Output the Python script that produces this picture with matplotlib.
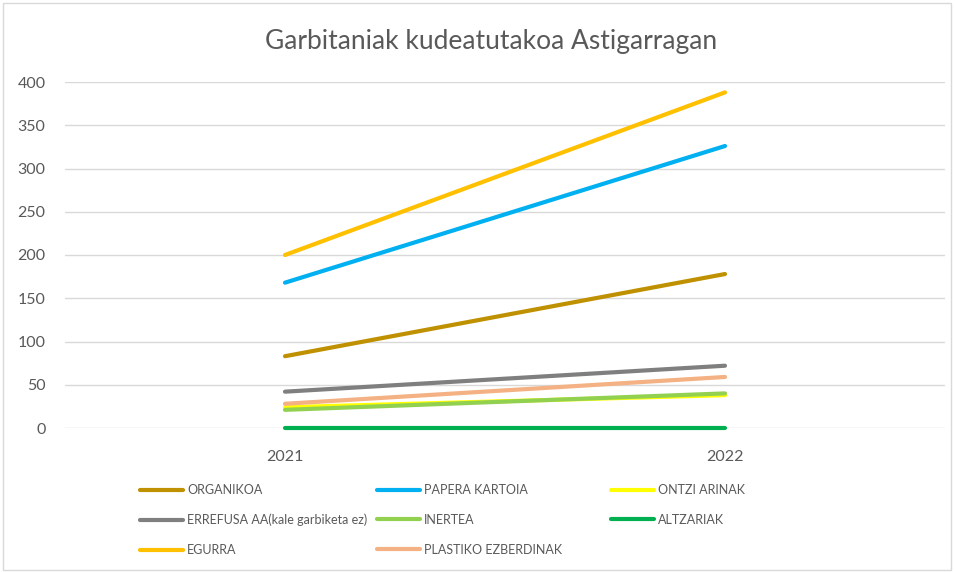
import numpy as np
import matplotlib.pyplot as plt
from matplotlib.patches import Rectangle

years = ['2021', '2022']
series_names = ['ORGANIKOA', 'PAPERA KARTOIA', 'ONTZI ARINAK',
                'ERREFUSA AA(kale garbiketa ez)', 'INERTEA', 'ALTZARIAK',
                'EGURRA', 'PLASTIKO EZBERDINAK']
organikoa = [83, 178]
papera = [168, 326]
ontzi = [24, 38]
errefusa = [42, 72]
inertea = [21, 40]
altzariak = [0.5, 0.5]
egurra = [200, 388]
plastiko = [28, 59]
colors = ['#BF9000', '#00B0F0', '#FFFF00', '#7F7F7F',
          '#92D050', '#00B050', '#FFC000', '#F4B183']


def main():
    plt.rcParams['font.family'] = ['Lato', 'DejaVu Sans']
    text_col = '#595959'
    values = [organikoa, papera, ontzi, errefusa, inertea, altzariak, egurra, plastiko]

    fig = plt.figure(figsize=(9.55, 5.72), dpi=100)
    ax = fig.add_axes([65 / 955, 1 - 428 / 572, 880 / 955, 346 / 572])
    x = np.arange(len(years))

    lines = []
    for name, vals, c in zip(series_names, values, colors):
        ln, = ax.plot(x, vals, color=c, linewidth=3, solid_capstyle='round',
                      label=name, zorder=3, clip_on=False)
        lines.append(ln)

    ax.set_xlim(-0.5, 1.5)
    ax.set_ylim(0, 400)
    ax.set_yticks(range(0, 401, 50))
    ax.set_xticks(x)
    ax.set_xticklabels(years)
    ax.grid(axis='y', color='#D9D9D9', linewidth=1)
    ax.set_axisbelow(True)
    for s in ax.spines.values():
        s.set_visible(False)
    ax.tick_params(length=0, labelsize=11.5, colors=text_col, pad=14)
    ax.tick_params(axis='x', pad=16)

    fig.text(491 / 955, 1 - 42 / 572, 'Garbitaniak kudeatutakoa Astigarragan',
             ha='center', va='center', fontsize=19, color=text_col)

    # three legend columns, row-major like the original
    col_x = [140, 377, 611]
    for ci, cx in enumerate(col_x):
        idx = [i for i in range(ci, len(lines), 3)]
        leg = fig.legend([lines[i] for i in idx], [series_names[i] for i in idx],
                         loc='upper left', bbox_to_anchor=(cx / 955, 1 - 484 / 572),
                         frameon=False, fontsize=9, handlelength=3.45,
                         handletextpad=0.3, labelspacing=1.42, borderpad=0,
                         borderaxespad=0)
        for t in leg.get_texts():
            t.set_color(text_col)

    fig.patches.append(Rectangle((3 / 955, 2 / 572), 948 / 955, 567 / 572,
                                 transform=fig.transFigure, fill=False,
                                 edgecolor='#D9D9D9', linewidth=1))

    fig.savefig('out.png', dpi=100, facecolor='white')
    plt.close(fig)


if __name__ == '__main__':
    main()
